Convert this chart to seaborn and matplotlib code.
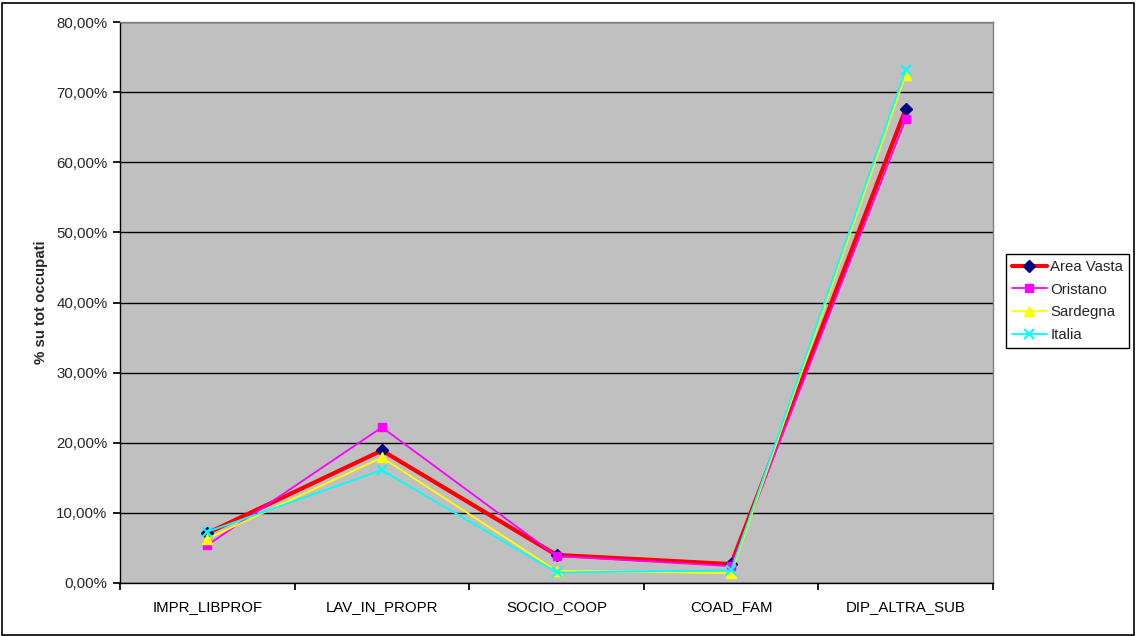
import pandas as pd
import matplotlib
matplotlib.use('Agg')
import matplotlib.pyplot as plt
import seaborn as sns
from matplotlib.ticker import FuncFormatter, FixedLocator
from matplotlib.patches import Rectangle

categories = ["IMPR_LIBPROF", "LAV_IN_PROPR", "SOCIO_COOP", "COAD_FAM", "DIP_ALTRA_SUB"]
area_vasta = [7.1, 18.9, 4.0, 2.7, 67.6]
oristano = [5.4, 22.2, 3.85, 2.4, 66.2]
sardegna = [6.3, 17.9, 1.75, 1.4, 72.5]
italia = [7.3, 16.1, 1.5, 1.8, 73.2]

series = {
    "Area Vasta": area_vasta,
    "Oristano": oristano,
    "Sardegna": sardegna,
    "Italia": italia,
}
styles = {
    "Area Vasta": dict(color="#FF0000", lw=3.0, marker="D", mfc="#000080", mec="#000080", ms=6),
    "Oristano": dict(color="#FF00FF", lw=1.3, marker="s", mfc="#FF00FF", mec="#FF00FF", ms=6),
    "Sardegna": dict(color="#FFFF00", lw=1.3, marker="^", mfc="#FFFF00", mec="#FFFF00", ms=7),
    "Italia": dict(color="#00FFFF", lw=1.3, marker="x", mfc="#00FFFF", mec="#00FFFF", ms=7, mew=1.5),
}

rows = []
for name, vals in series.items():
    for i, v in enumerate(vals):
        rows.append({"pos": i, "cat": categories[i], "serie": name, "val": v})
df = pd.DataFrame(rows)

sns.set_theme(style="white")
plt.rcParams['font.family'] = ['Liberation Sans', 'DejaVu Sans']

fig = plt.figure(figsize=(11.36, 6.36), dpi=100)
fig.patch.set_facecolor("white")
ax = fig.add_axes([120 / 1136, 53 / 636, 873 / 1136, 561 / 636])
ax.set_facecolor("#C0C0C0")

for name in series:
    st = styles[name]
    sub = df[df["serie"] == name]
    sns.lineplot(data=sub, x="pos", y="val", ax=ax, color=st["color"], linewidth=st["lw"],
                 marker=st["marker"], markerfacecolor=st["mfc"], markeredgecolor=st["mec"],
                 markersize=st["ms"], markeredgewidth=st.get("mew", 1.0), label=name)

ax.set_xlim(-0.5, 4.5)
ax.set_ylim(0, 80)
ax.yaxis.set_major_locator(FixedLocator(range(0, 81, 10)))
ax.yaxis.set_major_formatter(FuncFormatter(lambda v, p: f"{v:.2f}%".replace(".", ",")))
ax.grid(axis="y", color="black", linewidth=1)
ax.set_axisbelow(True)

# categories sit between the tick marks, Excel style
ax.set_xticks([i - 0.5 for i in range(6)])
ax.set_xticklabels([])
ax.set_xticks(range(5), minor=True)
ax.set_xticklabels(categories, minor=True)
ax.tick_params(axis="x", which="minor", length=0, pad=12, labelsize=10.8, colors="black")
ax.tick_params(axis="x", which="major", length=5, direction="out", color="black", bottom=True)
ax.tick_params(axis="y", length=5, direction="out", color="black", left=True, labelsize=10.8, pad=4)

ax.set_xlabel("")
ax.set_ylabel("% su tot occupati", fontsize=10.8, fontweight="bold", labelpad=6)

for s in ["left", "bottom"]:
    ax.spines[s].set_color("black")
    ax.spines[s].set_linewidth(1)
for s in ["top", "right"]:
    ax.spines[s].set_color("#808080")
    ax.spines[s].set_linewidth(1)

leg = ax.legend(loc="upper left", bbox_to_anchor=(1006 / 1136, 1 - 254 / 636),
                bbox_transform=fig.transFigure, fancybox=False, framealpha=1,
                edgecolor="black", fontsize=10.8, handlelength=2.3, borderpad=0.4,
                labelspacing=0.58, handletextpad=0.25, borderaxespad=0)
leg.get_frame().set_linewidth(1)

fig.patches.append(Rectangle((1.5 / 1136, 1.5 / 636), 1132 / 1136, 632 / 636,
                             transform=fig.transFigure, fill=False, edgecolor="black", linewidth=1.2))

fig.savefig("out.png", dpi=100)
